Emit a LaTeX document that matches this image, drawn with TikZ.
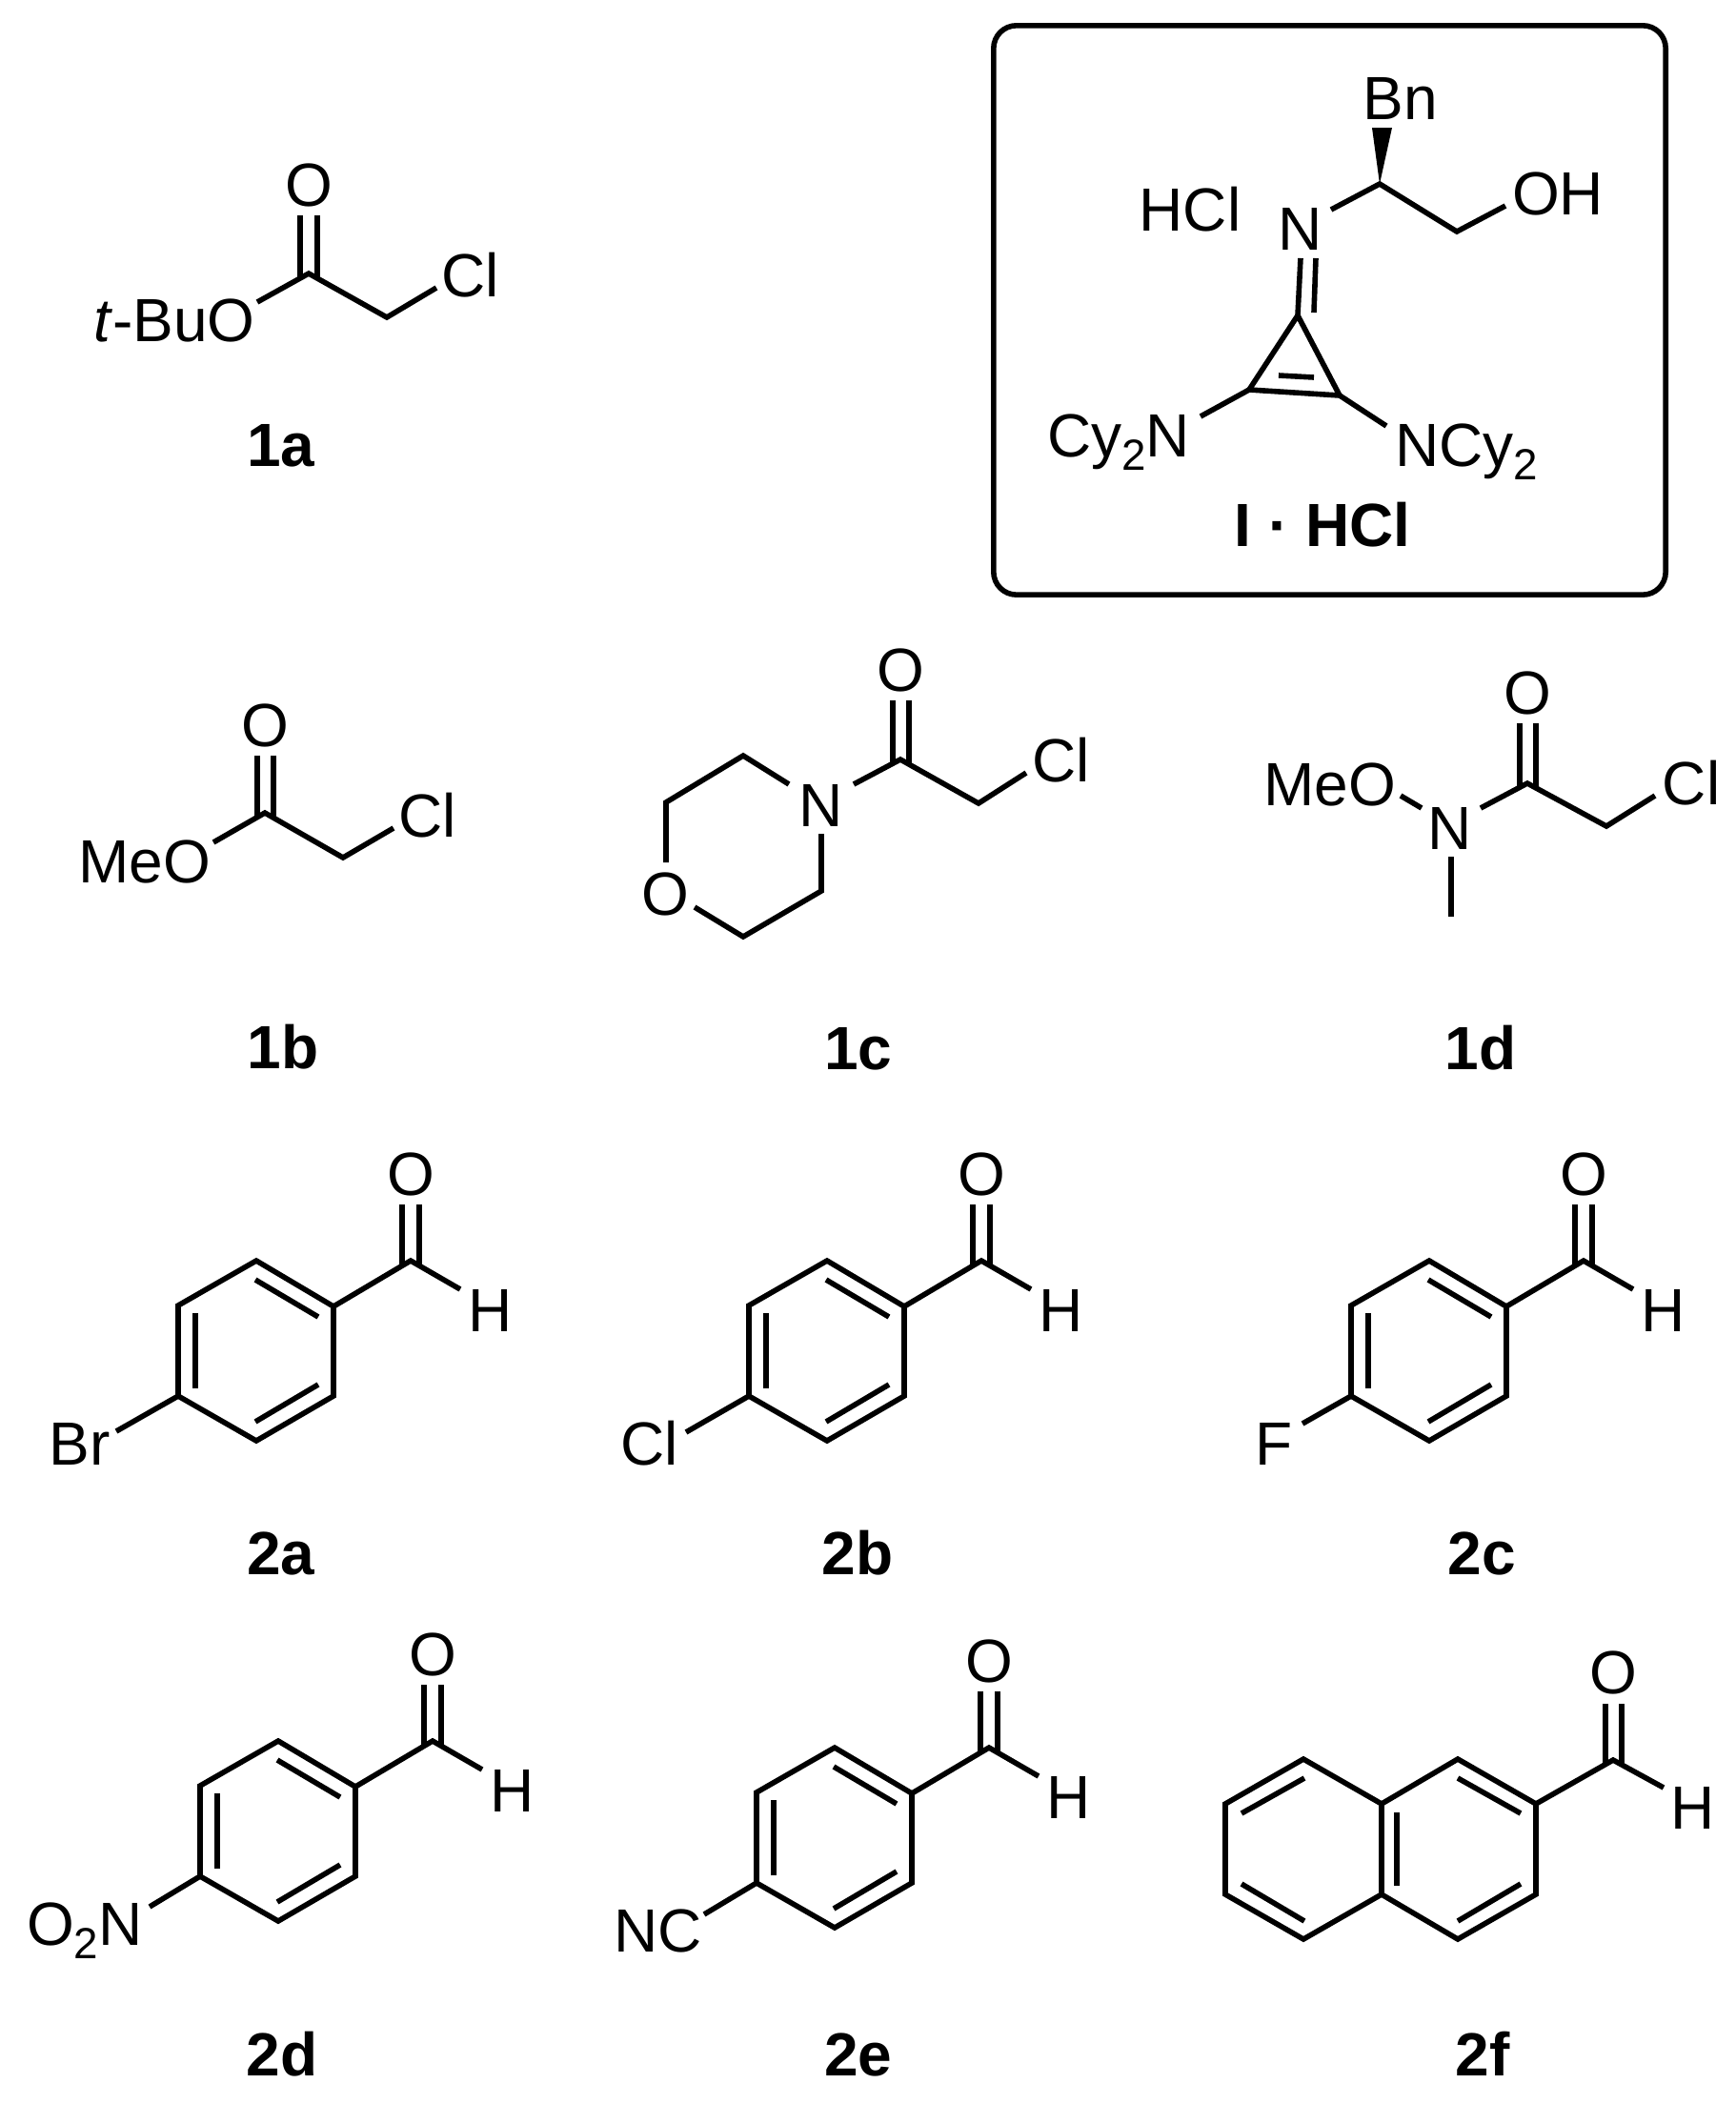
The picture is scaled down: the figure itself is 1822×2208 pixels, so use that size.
\documentclass[tikz,border=0pt]{standalone}
\usepackage{fontspec}
\setmainfont{Liberation Sans}
\newcommand\subtwo{\raisebox{-0.14cm}{\fontsize{13}{13}\selectfont 2}}
\tikzset{
  bond/.style={draw=black,line width=0.056cm,line join=miter,line cap=butt},
  atom/.style={font=\fontsize{18.2}{20}\selectfont,anchor=base,inner sep=0pt,outer sep=0pt,text=black},
  lbl/.style={font=\fontsize{18.2}{20}\selectfont\bfseries,anchor=base,inner sep=0pt,outer sep=0pt,text=black},
  framebox/.style={draw=black,line width=0.056cm,rounded corners=0.24cm}
}
% name, ring-top x, ring-top y
\newcommand\benzald[3]{%
  \begin{scope}[shift={(#2,#3)}]
    \coordinate (#1t) at (0,0);
    \coordinate (#1ur) at (81,48);
    \coordinate (#1lr) at (81,142);
    \coordinate (#1b) at (0,189);
    \coordinate (#1ll) at (-82,142);
    \coordinate (#1ul) at (-82,47);
    \coordinate (#1c) at (162,0);
    \coordinate (#1da) at (153,5);
    \coordinate (#1db) at (153,-59);
    \coordinate (#1dc) at (171,5);
    \coordinate (#1dd) at (171,-59);
    \coordinate (#1he) at (214,30);
    \coordinate (#1ia) at (-1,20);
    \coordinate (#1ib) at (65,59);
    \coordinate (#1ic) at (-64,55);
    \coordinate (#1id) at (-64,134);
    \coordinate (#1ie) at (65,130);
    \coordinate (#1if) at (-1,169);
    \draw[bond] (#1t)--(#1ur)--(#1lr)--(#1b)--(#1ll)--(#1ul)--cycle;
    \draw[bond] (#1ur)--(#1c)--(#1he);
    \draw[bond] (#1da)--(#1db);
    \draw[bond] (#1dc)--(#1dd);
    \draw[bond] (#1ia)--(#1ib);
    \draw[bond] (#1ic)--(#1id);
    \draw[bond] (#1ie)--(#1if);
    \node[atom] (#1O) at (162,-69) {O};
    \node[atom] (#1H) at (246,74) {H};
  \end{scope}}
\begin{document}
\begin{tikzpicture}[x=0.01cm,y=-0.01cm]
\useasboundingbox (0,0) rectangle (1822,2208);

% 1a
\coordinate (ac) at (324,287);
\coordinate (ach) at (406,333);
\coordinate (aoe) at (270,317);
\coordinate (acl) at (458,302);
\coordinate (ada) at (315,292);
\coordinate (adb) at (315,226);
\coordinate (adc) at (333,292);
\coordinate (add) at (333,226);
\draw[bond] (aoe)--(ac)--(ach)--(acl);
\draw[bond] (ada)--(adb);
\draw[bond] (adc)--(add);
\node[atom] (aO) at (324,216) {O};
\node[atom] (aCl) at (494,311) {Cl};
\node[atom] (aBu) at (183,358) {\textit{t}-BuO};
\node[lbl] (l1a) at (295,489) {1a};

% 1b
\coordinate (bc) at (278,853);
\coordinate (bch) at (360,900);
\coordinate (boe) at (224,884);
\coordinate (bcl) at (413,869);
\coordinate (bda) at (270,858);
\coordinate (bdb) at (270,793);
\coordinate (bdc) at (287,858);
\coordinate (bdd) at (287,793);
\draw[bond] (boe)--(bc)--(bch)--(bcl);
\draw[bond] (bda)--(bdb);
\draw[bond] (bdc)--(bdd);
\node[atom] (bO) at (278,783) {O};
\node[atom] (bCl) at (449,878) {Cl};
\node[atom] (bMe) at (152,926) {MeO};
\node[lbl] (l1b) at (297,1121) {1b};

% 1c
\coordinate (cc) at (945,797);
\coordinate (cch) at (1027,843);
\coordinate (cne) at (896,823);
\coordinate (ccl) at (1077,811);
\coordinate (cda) at (937,802);
\coordinate (cdb) at (937,735);
\coordinate (cdc) at (954,802);
\coordinate (cdd) at (954,735);
\coordinate (cr1) at (828,823);
\coordinate (cr2) at (780,793);
\coordinate (cr3) at (699,842);
\coordinate (cr4) at (699,905);
\coordinate (cr5) at (729,952);
\coordinate (cr6) at (780,983);
\coordinate (cr7) at (862,935);
\coordinate (cr8) at (862,875);
\draw[bond] (cne)--(cc)--(cch)--(ccl);
\draw[bond] (cda)--(cdb);
\draw[bond] (cdc)--(cdd);
\draw[bond] (cr1)--(cr2)--(cr3)--(cr4);
\draw[bond] (cr5)--(cr6)--(cr7)--(cr8);
\node[atom] (cO) at (945,725) {O};
\node[atom] (cCl) at (1114,820) {Cl};
\node[atom] (cN) at (862,867) {N};
\node[atom] (cOr) at (698,960) {O};
\node[lbl] (l1c) at (901,1122) {1c};

% 1d
\coordinate (dc) at (1603,822);
\coordinate (dch) at (1686,867);
\coordinate (dne) at (1554,848);
\coordinate (dcl) at (1737,835);
\coordinate (dda) at (1595,827);
\coordinate (ddb) at (1595,759);
\coordinate (ddc) at (1612,827);
\coordinate (ddd) at (1612,759);
\coordinate (dona) at (1470,835);
\coordinate (donb) at (1492,848);
\coordinate (dma) at (1523,899);
\coordinate (dmb) at (1523,962);
\draw[bond] (dne)--(dc)--(dch)--(dcl);
\draw[bond] (dda)--(ddb);
\draw[bond] (ddc)--(ddd);
\draw[bond] (dona)--(donb);
\draw[bond] (dma)--(dmb);
\node[atom] (dO) at (1603,749) {O};
\node[atom] (dCl) at (1775,844) {Cl};
\node[atom] (dN) at (1522,891) {N};
\node[atom] (dMe) at (1396,845) {MeO};
\node[lbl] (l1d) at (1554,1122) {1d};

% catalyst box
\node[framebox,minimum width=7.05cm,minimum height=5.97cm,anchor=north west,inner sep=0pt] (box) at (1040,24) {};
\coordinate (iw) at (1448,193);
\coordinate (iwa) at (1440,134);
\coordinate (iwb) at (1461,134);
\fill[black] (iw)--(iwa)--(iwb)--cycle;
\coordinate (ine) at (1397,220);
\coordinate (ich) at (1529,243);
\coordinate (ioe) at (1580,216);
\draw[bond] (ine)--(iw)--(ich)--(ioe);
\coordinate (ida) at (1365,271);
\coordinate (idb) at (1362,331);
\coordinate (idc) at (1381,271);
\coordinate (idd) at (1379,328);
\draw[bond] (ida)--(idb);
\draw[bond] (idc)--(idd);
\coordinate (ir1) at (1311,409);
\coordinate (ir2) at (1406,415);
\draw[bond] (idb)--(ir1)--(ir2)--cycle;
\coordinate (iia) at (1342,394);
\coordinate (iib) at (1379,396);
\draw[bond] (iia)--(iib);
\coordinate (ila) at (1260,437);
\coordinate (ilb) at (1455,447);
\draw[bond] (ir1)--(ila);
\draw[bond] (ir2)--(ilb);
\node[atom] (iBn) at (1470,125) {Bn};
\node[atom] (iN) at (1365,262) {N};
\node[atom] (iOH) at (1635,225) {OH};
\node[atom] (iHCl) at (1249,242) {HCl};
\node[atom,anchor=base west] (iCyL) at (1099,479) {Cy\subtwo N};
\node[atom,anchor=base west] (iCyR) at (1464,489) {NCy\subtwo};
\node[lbl] (lI) at (1388,573) {I · HCl};

% 2a
\benzald{p}{269}{1323}
\coordinate (pse) at (122,1502);
\draw[bond] (pll)--(pse);
\node[atom] (pBr) at (84,1537) {Br};
\node[lbl] (l2a) at (295,1652) {2a};

% 2b
\benzald{q}{868}{1323}
\coordinate (qse) at (720,1503);
\draw[bond] (qll)--(qse);
\node[atom] (qCl) at (682,1537) {Cl};
\node[lbl] (l2b) at (900,1652) {2b};

% 2c
\benzald{r}{1500}{1323}
\coordinate (rse) at (1367,1494);
\draw[bond] (rll)--(rse);
\node[atom] (rF) at (1337,1537) {F};
\node[lbl] (l2c) at (1555,1652) {2c};

% 2d
\benzald{s}{292}{1827}
\coordinate (sse) at (157,2001);
\draw[bond] (sll)--(sse);
\node[atom,anchor=base west] (sNO) at (28,2041) {O\subtwo N};
\node[lbl] (l2d) at (296,2178) {2d};

% 2e
\benzald{u}{876}{1834}
\coordinate (use) at (739,2009);
\draw[bond] (ull)--(use);
\node[atom] (uNC) at (691,2048) {NC};
\node[lbl] (l2e) at (901,2178) {2e};

% 2f
\coordinate (f1) at (1368,1846);
\coordinate (f2) at (1286,1893);
\coordinate (f3) at (1286,1988);
\coordinate (f4) at (1368,2035);
\coordinate (f5) at (1450,1988);
\coordinate (f6) at (1450,1893);
\coordinate (f7) at (1530,1846);
\coordinate (f8) at (1612,1893);
\coordinate (f9) at (1612,1988);
\coordinate (f10) at (1530,2035);
\coordinate (fc) at (1693,1847);
\coordinate (fhe) at (1746,1876);
\draw[bond] (f1)--(f2)--(f3)--(f4)--(f5)--(f6)--cycle;
\draw[bond] (f6)--(f7)--(f8)--(f9)--(f10)--(f5);
\draw[bond] (f8)--(fc)--(fhe);
\coordinate (fda) at (1685,1852);
\coordinate (fdb) at (1685,1788);
\coordinate (fdc) at (1702,1852);
\coordinate (fdd) at (1702,1788);
\draw[bond] (fda)--(fdb);
\draw[bond] (fdc)--(fdd);
\coordinate (fi1) at (1369,1866);
\coordinate (fi2) at (1303,1903);
\coordinate (fi3) at (1303,1977);
\coordinate (fi4) at (1369,2016);
\coordinate (fi5) at (1466,1902);
\coordinate (fi6) at (1466,1979);
\coordinate (fi7) at (1530,1866);
\coordinate (fi8) at (1596,1903);
\coordinate (fi9) at (1596,1977);
\coordinate (fi10) at (1530,2016);
\draw[bond] (fi1)--(fi2);
\draw[bond] (fi3)--(fi4);
\draw[bond] (fi5)--(fi6);
\draw[bond] (fi7)--(fi8);
\draw[bond] (fi9)--(fi10);
\node[atom] (fO) at (1693,1777) {O};
\node[atom] (fH) at (1777,1919) {H};
\node[lbl] (l2f) at (1556,2178) {2f};
\end{tikzpicture}
\end{document}
